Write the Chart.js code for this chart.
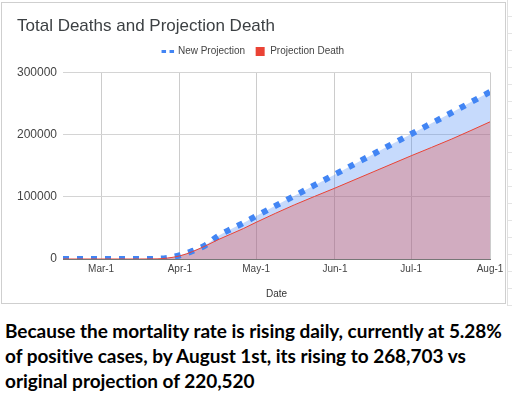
<!DOCTYPE html>
<html>
<head>
<meta charset="utf-8">
<script src="https://cdn.jsdelivr.net/npm/chart.js@4.4.1/dist/chart.umd.min.js"></script>
<style>
    html, body { margin: 0; padding: 0; background: #fff; }
    body { width: 512px; height: 395px; position: relative; overflow: hidden; }
    #frame { position: absolute; left: 1px; top: 2px; width: 505px; height: 302px; box-sizing: border-box; border: 1px solid #cfcfcf; }
    #sheet { position: absolute; left: 507px; top: 0; width: 5px; height: 306px; border-left: 1px solid #e0e0e0;
             background: repeating-linear-gradient(to bottom, transparent 0 16px, #e4e4e4 16px 17px); }
    #wrap { position: absolute; left: 0; top: 0; width: 512px; height: 305px; }
    #caption { position: absolute; left: 5px; top: 318px; font: bold 19px Lato, sans-serif; line-height: 25px;
               color: #000; white-space: nowrap; letter-spacing: -0.03px; }
</style>
</head>
<body>
<div id="sheet"></div>
<div id="frame"></div>
<div id="wrap"><canvas id="chartDeaths"></canvas></div>
<div id="caption">Because the mortality rate is rising daily, currently at 5.28%<br>of positive cases, by August 1st, its rising to 268,703 vs<br>original projection of 220,520</div>
<script>
// values
const dates = [
    '2020-02-15', '2020-03-01', '2020-03-16', '2020-03-23', '2020-03-27', '2020-04-01',
    '2020-04-06', '2020-04-11', '2020-04-16', '2020-04-21', '2020-04-26', '2020-05-01',
    '2020-05-16', '2020-06-01', '2020-06-16', '2020-07-01', '2020-07-17', '2020-08-01',
];
const newProjection = [
    0, 0, 0, 300, 1800, 6000,
    13000, 22000, 37000, 48000, 58000, 69000,
    101500, 136000, 168500, 201000, 235500, 268703,
];
const projectionDeath = [
    0, 0, 0, 200, 1500, 5000,
    12000, 21000, 31000, 40000, 49000, 59000,
    87000, 114000, 140000, 166000, 193000, 220520,
];
const tickDates = ['2020-03-01', '2020-04-01', '2020-05-01', '2020-06-01', '2020-07-01', '2020-08-01'];
const tickLabels = ['Mar-1', 'Apr-1', 'May-1', 'Jun-1', 'Jul-1', 'Aug-1'];
const yTicks = [0, 100000, 200000, 300000];

const palette = {
    blue: '#4285F4',
    blueFill: 'rgba(66, 133, 244, 0.3)',
    red: '#EA4335',
    redFill: 'rgba(234, 67, 53, 0.3)',
    text: '#444444',
    grid: '#d4d4d4',
};

const font = "'Liberation Sans', Arial, sans-serif";

function dayOf(s) {
    return (Date.parse(s) - Date.parse(dates[0])) / 864e5;
}

function toPoints(values) {
    return values.map((v, i) => ({ x: dayOf(dates[i]), y: v }));
}

// legend gets a little more room below it
const legendGap = {
    id: 'legendGap',
    beforeInit(chart) {
        const fit = chart.legend.fit;
        chart.legend.fit = function () {
            fit.bind(chart.legend)();
            this.height += 6;
        };
    },
};

new Chart(document.getElementById('chartDeaths'), {
    type: 'line',
    data: {
        datasets: [
            {
                label: 'Projection Death',
                data: toPoints(projectionDeath),
                borderColor: palette.red,
                borderWidth: 1,
                backgroundColor: palette.redFill,
                fill: 'origin',
                pointRadius: 0,
                cubicInterpolationMode: 'monotone',
            },
            {
                label: 'New Projection',
                data: toPoints(newProjection),
                borderColor: palette.blue,
                borderWidth: 6,
                borderDash: [6, 8],
                borderCapStyle: 'butt',
                backgroundColor: palette.blueFill,
                fill: 'origin',
                pointRadius: 0,
                cubicInterpolationMode: 'monotone',
            },
        ],
    },
    options: {
        responsive: true,
        maintainAspectRatio: false,
        animation: false,
        layout: { padding: { left: 17, right: 22, top: 0, bottom: 5 } },
        plugins: {
            filler: { drawTime: 'beforeDatasetsDraw' },
            tooltip: { enabled: false },
            title: {
                display: true,
                text: 'Total Deaths and Projection Death',
                align: 'start',
                color: '#3c4043',
                font: { family: font, size: 17, weight: 'normal' },
                padding: { top: 16, bottom: 0 },
            },
            legend: {
                position: 'top',
                reverse: true,
                labels: {
                    usePointStyle: true,
                    boxHeight: 9,
                    padding: 10,
                    color: palette.text,
                    font: { family: font, size: 10 },
                    generateLabels: (chart) => chart.data.datasets.map((ds, i) => {
                        const dashed = i === 1;
                        return {
                            text: ds.label,
                            datasetIndex: i,
                            pointStyle: dashed ? 'line' : 'rect',
                            fillStyle: ds.borderColor,
                            strokeStyle: ds.borderColor,
                            lineWidth: dashed ? 3 : 0,
                            lineDash: dashed ? [4.5, 3.5] : [],
                            lineCap: 'butt',
                            fontColor: palette.text,
                        };
                    }),
                },
            },
        },
        scales: {
            x: {
                type: 'linear',
                min: 0,
                max: dayOf('2020-08-01'),
                afterBuildTicks: (axis) => {
                    axis.ticks = tickDates.map((d) => ({ value: dayOf(d) }));
                },
                afterFit: (axis) => {
                    axis.height = 41;
                },
                ticks: {
                    callback: (v, i) => tickLabels[i],
                    color: palette.text,
                    font: { family: font, size: 10 },
                    padding: 4,
                    maxRotation: 0,
                    autoSkip: false,
                },
                grid: { color: '#cccccc', drawTicks: false },
                border: { color: '#777777', width: 1 },
                title: {
                    display: true,
                    text: 'Date',
                    color: '#333333',
                    font: { family: font, size: 10 },
                    padding: { top: 13, bottom: 0 },
                },
            },
            y: {
                min: 0,
                max: 300000,
                afterBuildTicks: (axis) => {
                    axis.ticks = yTicks.map((v) => ({ value: v }));
                },
                afterFit: (axis) => {
                    axis.width = 46;
                },
                ticks: {
                    callback: (v) => String(v),
                    color: palette.text,
                    font: { family: font, size: 12 },
                    padding: 6,
                },
                grid: { color: palette.grid, drawTicks: false },
                border: { display: false },
            },
        },
    },
    plugins: [legendGap],
});
</script>
</body>
</html>
